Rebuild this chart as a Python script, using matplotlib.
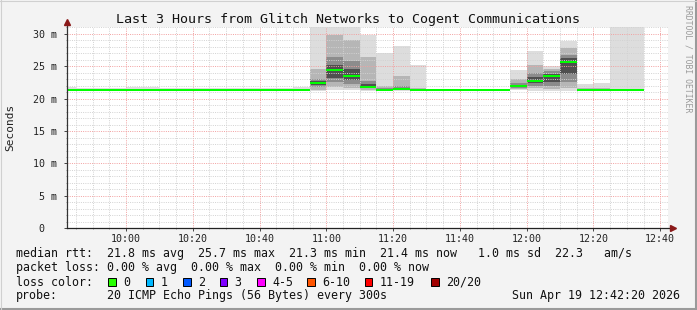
import matplotlib
matplotlib.use("Agg")
import matplotlib.pyplot as plt
import matplotlib.dates as mdates
from matplotlib.ticker import MultipleLocator, FuncFormatter
from matplotlib.lines import Line2D
from matplotlib.patches import Rectangle
import pandas as pd

# 5 minute bins, 20 pings each (values in ms)
bin_start = pd.date_range("2026-04-19 09:40", periods=35, freq="5min")

rtt_median = [21.35, 21.35, 21.35, 21.35, 21.35, 21.35, 21.35, 21.35, 21.35, 21.35,
              21.35, 21.35, 21.35, 21.35, 21.40, 22.47, 24.48, 23.55, 21.86, 21.40,
              21.55, 21.40, 21.35, 21.35, 21.35, 21.35, 21.35, 22.00, 22.80, 23.45,
              25.66, 21.40, 21.35, 21.35, 21.35]
rtt_min = [21.25, 21.25, 21.25, 21.25, 21.25, 21.25, 21.25, 21.25, 21.25, 21.25,
           21.25, 21.25, 21.25, 21.25, 21.25, 21.20, 21.30, 21.30, 21.20, 21.20,
           21.25, 21.25, 21.25, 21.25, 21.25, 21.25, 21.25, 21.30, 21.25, 21.25,
           21.20, 21.25, 21.25, 21.25, 21.25]
rtt_q15 = [21.30, 21.30, 21.30, 21.30, 21.30, 21.30, 21.30, 21.30, 21.30, 21.30,
           21.30, 21.30, 21.30, 21.30, 21.30, 21.30, 21.80, 21.70, 21.40, 21.30,
           21.35, 21.30, 21.30, 21.30, 21.30, 21.30, 21.30, 21.50, 21.60, 21.50,
           21.60, 21.30, 21.30, 21.30, 21.30]
rtt_q30 = [21.32, 21.32, 21.32, 21.32, 21.32, 21.32, 21.32, 21.32, 21.32, 21.32,
           21.32, 21.32, 21.32, 21.32, 21.32, 21.80, 22.50, 22.30, 21.60, 21.35,
           21.45, 21.35, 21.32, 21.32, 21.32, 21.32, 21.32, 21.70, 22.00, 22.00,
           22.50, 21.32, 21.32, 21.32, 21.32]
rtt_q40 = [21.34, 21.34, 21.34, 21.34, 21.34, 21.34, 21.34, 21.34, 21.34, 21.34,
           21.34, 21.34, 21.34, 21.34, 21.34, 22.10, 23.20, 22.90, 21.75, 21.38,
           21.50, 21.38, 21.34, 21.34, 21.34, 21.34, 21.34, 21.85, 22.40, 22.60,
           23.80, 21.34, 21.34, 21.34, 21.34]
rtt_q60 = [21.37, 21.37, 21.37, 21.37, 21.37, 21.37, 21.37, 21.37, 21.37, 21.37,
           21.37, 21.37, 21.37, 21.37, 21.42, 22.80, 25.20, 24.60, 22.20, 21.50,
           21.70, 21.45, 21.37, 21.37, 21.37, 21.37, 21.37, 22.10, 23.30, 23.80,
           26.20, 21.42, 21.37, 21.37, 21.37]
rtt_q70 = [21.40, 21.40, 21.40, 21.40, 21.40, 21.40, 21.40, 21.40, 21.40, 21.40,
           21.40, 21.40, 21.40, 21.40, 21.45, 23.00, 26.50, 25.80, 22.80, 21.70,
           22.00, 21.50, 21.40, 21.40, 21.40, 21.40, 21.40, 22.40, 24.00, 24.20,
           26.80, 21.45, 21.45, 21.45, 21.45]
rtt_q85 = [21.45, 21.45, 21.45, 21.45, 21.45, 21.45, 21.45, 21.45, 21.45, 21.45,
           21.45, 21.45, 21.45, 21.45, 21.50, 24.60, 29.80, 29.00, 26.50, 22.00,
           23.50, 21.70, 21.45, 21.45, 21.45, 21.45, 21.45, 23.10, 25.20, 24.60,
           27.80, 21.60, 21.60, 21.50, 21.50]
rtt_max = [21.75, 21.60, 21.60, 21.70, 21.75, 21.75, 21.70, 21.70, 21.60, 21.60,
           21.60, 21.60, 21.60, 21.60, 21.85, 33.00, 33.00, 31.50, 29.90, 27.10,
           28.10, 25.25, 21.55, 21.55, 21.55, 21.55, 21.55, 24.50, 27.40, 25.00,
           28.90, 22.20, 22.40, 33.00, 33.00]

loss_labels = ["0", "1", "2", "3", "4-5", "6-10", "11-19", "20/20"]
loss_colors = ["#26ff00", "#00b8ff", "#0059ff", "#7e00ff", "#ff00ff", "#ff5500", "#ff0000", "#a10000"]
loss_box_x = [108, 145.5, 183, 219.5, 257, 307, 364.5, 431]

W, H = 697, 310
mono = "DejaVu Sans Mono"

def fx(x):
    return x / W

def fy(y):
    return 1 - y / H

fig = plt.figure(figsize=(W / 100, H / 100), dpi=100, facecolor="#f3f3f3")
ax = fig.add_axes([fx(67), fy(228.3), (668 - 67) / W, (228.3 - 27) / H])
ax.set_facecolor("white")

edges = mdates.date2num(list(bin_start) + [bin_start[-1] + pd.Timedelta(minutes=5)])

# smoke layers, outer (light) to inner (dark)
layers = [(rtt_min, rtt_max, "#dddddd"),
          (rtt_q15, rtt_q85, "#b6b6b6"),
          (rtt_q30, rtt_q70, "#8c8c8c"),
          (rtt_q40, rtt_q60, "#4f4f4f")]
for lo, hi, col in layers:
    ax.stairs(hi, edges, baseline=lo, fill=True, color=col, lw=0, zorder=1)

ax.hlines(rtt_median, edges[:-1], edges[1:], colors="#00ff00", lw=1.45, zorder=3)

ax.xaxis_date()
ax.set_xlim(mdates.date2num(pd.Timestamp("2026-04-19 09:42:20")),
            mdates.date2num(pd.Timestamp("2026-04-19 12:42:20")))
ax.set_ylim(0, 31.06)

ax.xaxis.set_major_locator(mdates.MinuteLocator(byminute=[0, 20, 40]))
ax.xaxis.set_minor_locator(mdates.MinuteLocator(byminute=range(0, 60, 5)))
ax.xaxis.set_major_formatter(mdates.DateFormatter("%H:%M"))
ax.yaxis.set_major_locator(MultipleLocator(5))
ax.yaxis.set_minor_locator(MultipleLocator(1))
ax.yaxis.set_major_formatter(FuncFormatter(lambda v, p: "0  " if v == 0 else f"{v:.0f} m"))

ax.set_axisbelow(False)
ax.grid(which="minor", color="#d2d2d2", ls=(0, (1, 1.3)), lw=0.7)
ax.grid(which="major", color="#f2a0a0", ls=(0, (1, 1.3)), lw=0.7)

for s in ["top", "right", "left", "bottom"]:
    ax.spines[s].set_visible(False)

ax.tick_params(which="major", length=2, width=0.7, color="#444444", labelsize=7.2,
               labelcolor="#222222")
ax.tick_params(which="minor", length=1, width=0.6, color="#888888")
ax.tick_params(axis="y", pad=5)
ax.tick_params(axis="x", pad=2)
for lab in ax.get_xticklabels() + ax.get_yticklabels():
    lab.set_family(mono)

# axes with arrows
ax.plot([0, 0], [0, 1.02], transform=ax.transAxes, color="#333333", lw=0.9,
        clip_on=False, zorder=4)
ax.plot([0, 1.005], [0, 0], transform=ax.transAxes, color="#222222", lw=0.9,
        clip_on=False, zorder=4)
ax.plot([0], [1.025], transform=ax.transAxes, marker="^", ms=4.5, color="#8b1a1a",
        clip_on=False, zorder=5)
ax.plot([1.008], [0], transform=ax.transAxes, marker=">", ms=4.5, color="#8b1a1a",
        clip_on=False, zorder=5)

fig.text(fx(10), fy(127), "Seconds", rotation=90, ha="center", va="center",
         family=mono, fontsize=8, color="#222222")
fig.text(0.5, fy(19), "Last 3 Hours from Glitch Networks to Cogent Communications",
         ha="center", va="center", family=mono, fontsize=9.6, color="#111111")
fig.text(fx(688), fy(59), "RRDTOOL / TOBI OETIKER", rotation=270, ha="center",
         va="center", family=mono, fontsize=5.9, color="#9a9a9a")

legend_fs = 8.33
fig.text(fx(16), fy(254), "median rtt:  21.8 ms avg  25.7 ms max  21.3 ms min  "
         "21.4 ms now   1.0 ms sd  22.3   am/s", family=mono, fontsize=legend_fs,
         va="center", color="#111111")
fig.text(fx(16), fy(268), "packet loss: 0.00 % avg  0.00 % max  0.00 % min  0.00 % now",
         family=mono, fontsize=legend_fs, va="center", color="#111111")
fig.text(fx(16), fy(282), "loss color:", family=mono, fontsize=legend_fs, va="center",
         color="#111111")
for lab, col, bx in zip(loss_labels, loss_colors, loss_box_x):
    fig.add_artist(Rectangle((fx(bx), fy(286)), 7.5 / W, 8 / H, transform=fig.transFigure,
                             facecolor=col, edgecolor="black", lw=0.7))
    fig.text(fx(bx + 15), fy(282), lab, family=mono, fontsize=legend_fs, va="center",
             color="#111111")
fig.text(fx(16), fy(296), "probe:", family=mono, fontsize=legend_fs, va="center",
         color="#111111")
fig.text(fx(107.3), fy(296), "20 ICMP Echo Pings (56 Bytes) every 300s", family=mono,
         fontsize=legend_fs, va="center", color="#111111")
fig.text(fx(680), fy(296), "Sun Apr 19 12:42:20 2026", family=mono, fontsize=legend_fs,
         va="center", ha="right", color="#111111")

# outer frame shading
fig.add_artist(Line2D([fx(0), fx(697)], [fy(308.5), fy(308.5)], color="#9a9a9a", lw=1.5))
fig.add_artist(Line2D([fx(696), fx(696)], [fy(0), fy(310)], color="#9a9a9a", lw=1.5))
fig.add_artist(Line2D([fx(0), fx(697)], [fy(0.5), fy(0.5)], color="#d0d0d0", lw=0.8))
fig.add_artist(Line2D([fx(0.5), fx(0.5)], [fy(0), fy(310)], color="#d0d0d0", lw=0.8))

fig.savefig("out.png", dpi=100, facecolor=fig.get_facecolor())
